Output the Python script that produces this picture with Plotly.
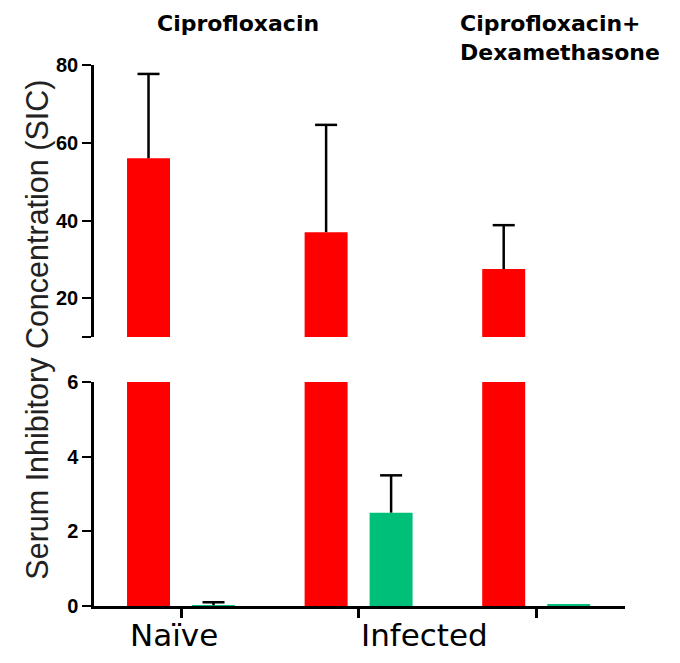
import plotly.graph_objects as go

# groups along the x axis (left to right)
groups = ["Naïve / Ciprofloxacin", "Infected / Ciprofloxacin", "Infected / Ciprofloxacin+Dexamethasone"]
group_pos = [0, 1, 2]

# red bars (left in each group) and their upper SD
red_vals = [56, 37, 27.5]
red_err = [21.7, 27.6, 11.3]

# green bars (right in each group) and their upper SD
green_vals = [0.02, 2.5, 0.05]
green_err = [0.08, 1.0, 0]

x_labels = ["Naïve", "Infected"]
x_label_pos = [-0.3, 1.0]

RED = "#FF0000"
GREEN = "#00BF78"
FONT = "Liberation Sans, Arial, sans-serif"
TITLE_FONT = "DejaVu Sans, sans-serif"

BAR_W = 0.242
RED_OFF = -0.304
GREEN_OFF = 0.062
CAP = 0.062  # half width of the error bar cap, x units

fig = go.Figure()


def whiskers(vals, errs, off):
    # upper-only error bars: stem from bar top to top+err, plus a cap
    xs, ys = [], []
    for p, v, e in zip(group_pos, vals, errs):
        if e <= 0:
            continue
        xc = p + off + BAR_W / 2
        xs += [xc, xc, None, xc - CAP, xc + CAP, None]
        ys += [v, v + e, None, v + e, v + e, None]
    return xs, ys


def add_bars(yaxis):
    # same bars drawn into both halves of the broken axis
    fig.add_trace(go.Bar(
        x=group_pos, y=red_vals, name="Red", marker_color=RED, marker_line_width=0,
        width=BAR_W, offset=RED_OFF, yaxis=yaxis, showlegend=False,
    ))
    fig.add_trace(go.Bar(
        x=group_pos, y=green_vals, name="Green", marker_color=GREEN, marker_line_width=0,
        width=BAR_W, offset=GREEN_OFF, yaxis=yaxis, showlegend=False,
    ))
    for vals, errs, off in [(red_vals, red_err, RED_OFF), (green_vals, green_err, GREEN_OFF)]:
        xs, ys = whiskers(vals, errs, off)
        fig.add_trace(go.Scatter(x=xs, y=ys, mode="lines", yaxis=yaxis, showlegend=False,
                                 line=dict(color="black", width=2.5), hoverinfo="skip"))


add_bars("y")
add_bars("y2")

axis_common = dict(
    showline=True, linecolor="black", linewidth=2.5, ticks="outside", ticklen=9,
    tickwidth=2, tickcolor="black", showgrid=False, zeroline=False,
    tickfont=dict(family=FONT, size=20, color="black", weight="bold"),
)

annotations = [
    dict(text="Serum Inhibitory Concentration (SIC)", textangle=-90, xref="paper", yref="paper",
         x=-0.143, y=0.51, showarrow=False, font=dict(family=FONT, size=30.5, color="#222")),
    dict(text="<b>Ciprofloxacin</b>", xref="x", yref="paper", x=-0.146, y=1.103,
         xanchor="left", yanchor="top", showarrow=False,
         font=dict(family=TITLE_FONT, size=22, color="black")),
    dict(text="<b>Ciprofloxacin+<br>Dexamethasone</b>", xref="x", yref="paper", x=1.56, y=1.103,
         xanchor="left", yanchor="top", align="left", showarrow=False,
         font=dict(family=TITLE_FONT, size=22, color="black")),
]
for lab, pos in zip(x_labels, x_label_pos):
    annotations.append(dict(text=lab, xref="x", yref="paper", x=pos, y=-0.054,
                            xanchor="left", yanchor="middle", showarrow=False,
                            font=dict(family=TITLE_FONT, size=31, color="black")))

fig.update_layout(
    width=664, height=647,
    margin=dict(l=86, r=47, t=57, b=49),
    paper_bgcolor="white", plot_bgcolor="white",
    barmode="overlay",
    xaxis=dict(range=[-0.49, 2.5], tickvals=group_pos, ticktext=["", "", ""],
               showline=True, linecolor="black", linewidth=2.5, ticks="outside", ticklen=9,
               tickwidth=2.5, tickcolor="black", showgrid=False, zeroline=False, anchor="y"),
    yaxis=dict(domain=[0, 0.414], range=[0, 6], tickvals=[0, 2, 4, 6], **axis_common),
    yaxis2=dict(domain=[0.497, 1], range=[10, 80], tickvals=[10, 20, 40, 60, 80],
                ticktext=["", "20", "40", "60", "80"], anchor="x", **axis_common),
    annotations=annotations,
)

fig.write_html("out.html")
